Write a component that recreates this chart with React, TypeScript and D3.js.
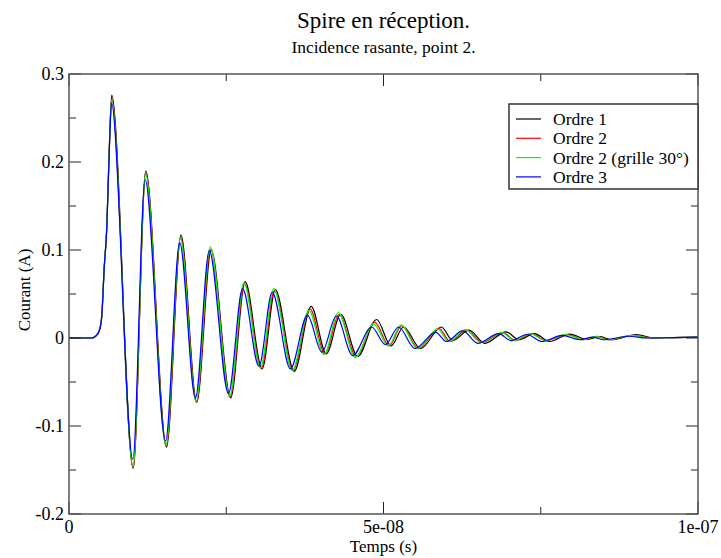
import React from "react";
import * as d3 from "d3";

// Time in ns, current in A (extrema)
const tOrdre1 = [0, 3.6, 4.2, 4.8, 5.2, 5.6, 6.0, 6.25, 6.5, 6.8, 10.2, 12.2, 15.5, 17.8, 20.3, 22.6, 25.7, 28.0, 30.7, 32.8, 35.8, 38.5, 40.9, 43.2, 45.9, 48.9, 51.2, 53.2, 55.9, 59.2, 61.0, 63.6, 66.1, 69.5, 71.5, 74.0, 76.4, 79.6, 82.4, 84.5, 86.2, 90.2, 93.0, 96.0, 100];
const vOrdre1 = [0, 0, 0.002, 0.008, 0.024, 0.08, 0.125, 0.18, 0.236, 0.276, -0.148, 0.19, -0.124, 0.117, -0.073, 0.1, -0.068, 0.064, -0.035, 0.055, -0.038, 0.036, -0.018, 0.027, -0.021, 0.021, -0.009, 0.0125, -0.012, 0.0125, -0.003, 0.009, -0.006, 0.007, -0.002, 0.005, -0.004, 0.0045, -0.0015, 0.0015, -0.002, 0.004, 0.0, 0.0005, 0.001];

const tOrdre2 = [0, 3.6, 4.2, 4.8, 5.2, 5.6, 6.0, 6.25, 6.5, 6.78, 10.2, 12.2, 15.45, 17.75, 20.25, 22.5, 25.6, 27.9, 30.55, 32.65, 35.6, 38.3, 40.7, 42.95, 45.65, 48.6, 50.9, 52.9, 55.55, 58.8, 60.6, 63.2, 65.7, 69.0, 71.0, 73.5, 75.9, 79.1, 81.9, 84.0, 85.7, 89.7, 92.5, 96, 100];
const vOrdre2 = [0, 0, 0.002, 0.008, 0.024, 0.08, 0.125, 0.18, 0.234, 0.272, -0.148, 0.187, -0.123, 0.114, -0.073, 0.101, -0.067, 0.062, -0.035, 0.054, -0.037, 0.033, -0.018, 0.027, -0.021, 0.018, -0.009, 0.014, -0.012, 0.011, -0.004, 0.009, -0.005, 0.006, -0.003, 0.005, -0.003, 0.004, -0.002, 0.002, -0.002, 0.003, 0.0, 0.0005, 0.001];

const tOrdre2g = [0, 3.6, 4.2, 4.8, 5.2, 5.6, 6.0, 6.25, 6.5, 6.77, 10.18, 12.18, 15.4, 17.7, 20.2, 22.45, 25.55, 27.8, 30.45, 32.55, 35.5, 38.15, 40.55, 42.8, 45.5, 48.45, 50.75, 52.8, 55.4, 58.6, 60.4, 63.0, 65.5, 68.8, 70.8, 73.3, 75.7, 78.9, 81.7, 83.8, 85.5, 89.5, 92.3, 96, 100];
const vOrdre2g = [0, 0, 0.002, 0.008, 0.024, 0.08, 0.125, 0.18, 0.234, 0.27, -0.146, 0.186, -0.122, 0.113, -0.072, 0.104, -0.066, 0.063, -0.034, 0.056, -0.037, 0.031, -0.019, 0.029, -0.022, 0.016, -0.009, 0.015, -0.012, 0.01, -0.004, 0.0095, -0.005, 0.006, -0.003, 0.005, -0.003, 0.004, -0.002, 0.002, -0.002, 0.003, 0.0, 0.0005, 0.001];

const tOrdre3 = [0, 3.6, 4.2, 4.8, 5.2, 5.6, 6.0, 6.25, 6.5, 6.75, 10.15, 12.1, 15.35, 17.6, 20.1, 22.3, 25.35, 27.6, 30.2, 32.3, 35.2, 37.9, 40.2, 42.5, 45.1, 48.1, 50.3, 52.4, 55.0, 58.3, 60.0, 62.6, 65.0, 68.3, 70.3, 72.8, 75.2, 78.4, 81.2, 83.3, 85.0, 89.0, 91.8, 96, 100];
const vOrdre3 = [0, 0, 0.002, 0.008, 0.024, 0.08, 0.124, 0.178, 0.232, 0.267, -0.138, 0.18, -0.117, 0.108, -0.068, 0.099, -0.063, 0.056, -0.032, 0.052, -0.035, 0.026, -0.016, 0.025, -0.02, 0.0125, -0.0075, 0.0125, -0.012, 0.0065, -0.004, 0.008, -0.006, 0.005, -0.003, 0.004, -0.004, 0.003, -0.002, 0.001, -0.002, 0.002, 0.0, 0.0005, 0.001];

const seriesNames = ["Ordre 1", "Ordre 2", "Ordre 2 (grille 30°)", "Ordre 3"];
const seriesColors = ["#000000", "#ff0000", "#00ff00", "#0000ff"];

const xMajorTicks = [0, 50, 100];
const xMajorLabels = ["0", "5e-08", "1e-07"];
const xMinorTicks = [25, 75];
const yMajorTicks = [-0.2, -0.1, 0, 0.1, 0.2, 0.3];
const yMajorLabels = ["-0.2", "-0.1", "0", "0.1", "0.2", "0.3"];
const yMinorTicks = [-0.15, -0.05, 0.05, 0.15, 0.25];

const W = 721;
const H = 558;
const L = 69, R = 698, T = 74, B = 514;
const FONT = "Liberation Serif, Times New Roman, serif";

export default function App() {
  const x = d3.scaleLinear().domain([0, 100]).range([L, R]);
  const y = d3.scaleLinear().domain([-0.2, 0.3]).range([B, T]);

  const times = [tOrdre1, tOrdre2, tOrdre2g, tOrdre3];
  const vals = [vOrdre1, vOrdre2, vOrdre2g, vOrdre3];

  const line = d3
    .line<[number, number]>()
    .x((d) => x(d[0]))
    .y((d) => y(d[1]))
    .curve(d3.curveMonotoneX);

  const paths = times.map((ts, i) =>
    line(ts.map((t, j) => [t, vals[i][j]] as [number, number]))
  );

  const major = 12;
  const minor = 7;
  const tickColor = "#222";

  return (
    <svg
      width={W}
      height={H}
      style={{ position: "fixed", left: 0, top: 0, background: "#fff", fontFamily: FONT }}
    >
      <rect x={0} y={0} width={W} height={H} fill="#fff" />
      {/* titles */}
      <text x={(L + R) / 2} y={28} textAnchor="middle" fontSize={23} fill="#000">
        Spire en réception.
      </text>
      <text x={(L + R) / 2} y={53} textAnchor="middle" fontSize={17.5} fill="#000">
        Incidence rasante, point 2.
      </text>

      {/* curves */}
      <defs>
        <clipPath id="clip">
          <rect x={L} y={T} width={R - L} height={B - T} />
        </clipPath>
      </defs>
      <g clipPath="url(#clip)">
        {paths.map((p, i) => (
          <path key={i} d={p || ""} fill="none" stroke={seriesColors[i]} strokeWidth={1.2} />
        ))}
      </g>

      {/* ticks */}
      <g stroke={tickColor} strokeWidth={1}>
        {xMajorTicks.map((t, i) => (
          <g key={"xm" + i}>
            <line x1={x(t)} x2={x(t)} y1={B} y2={B - major} />
            <line x1={x(t)} x2={x(t)} y1={T} y2={T + major} />
          </g>
        ))}
        {xMinorTicks.map((t, i) => (
          <g key={"xn" + i}>
            <line x1={x(t)} x2={x(t)} y1={B} y2={B - minor} />
            <line x1={x(t)} x2={x(t)} y1={T} y2={T + minor} />
          </g>
        ))}
        {yMajorTicks.map((v, i) => (
          <g key={"ym" + i}>
            <line x1={L} x2={L + major} y1={y(v)} y2={y(v)} />
            <line x1={R} x2={R - major} y1={y(v)} y2={y(v)} />
          </g>
        ))}
        {yMinorTicks.map((v, i) => (
          <g key={"yn" + i}>
            <line x1={L} x2={L + minor} y1={y(v)} y2={y(v)} />
            <line x1={R} x2={R - minor} y1={y(v)} y2={y(v)} />
          </g>
        ))}
      </g>

      {/* frame */}
      <rect x={L} y={T} width={R - L} height={B - T} fill="none" stroke="#555" strokeWidth={1.5} />

      {/* tick labels */}
      {xMajorTicks.map((t, i) => (
        <text key={"xl" + i} x={x(t)} y={533} textAnchor="middle" fontSize={18} fill="#000">
          {xMajorLabels[i]}
        </text>
      ))}
      {yMajorTicks.map((v, i) => (
        <text key={"yl" + i} x={64} y={y(v) + 6} textAnchor="end" fontSize={18} fill="#000">
          {yMajorLabels[i]}
        </text>
      ))}

      {/* axis labels */}
      <text x={(L + R) / 2} y={552} textAnchor="middle" fontSize={17} fill="#000">
        Temps (s)
      </text>
      <text
        transform={`translate(30, ${(T + B) / 2 - 4}) rotate(-90)`}
        textAnchor="middle"
        fontSize={17}
        fill="#000"
      >
        Courant (A)
      </text>

      {/* legend */}
      <rect x={509} y={104} width={R - 509} height={85} fill="#fff" stroke="#333" strokeWidth={1.5} />
      {seriesNames.map((n, i) => {
        const ly = 119 + i * 19.3;
        return (
          <g key={"lg" + i}>
            <line x1={516} x2={541} y1={ly} y2={ly} stroke={seriesColors[i]} strokeWidth={1.2} />
            <text x={553} y={ly + 6} fontSize={17.5} fill="#000">
              {n}
            </text>
          </g>
        );
      })}
    </svg>
  );
}
